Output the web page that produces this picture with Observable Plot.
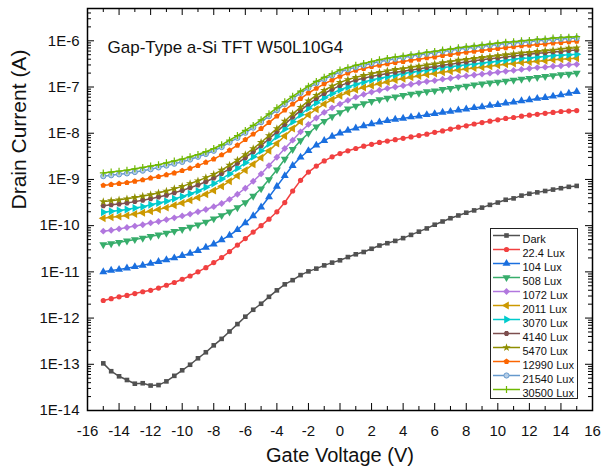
<!DOCTYPE html>
<html>
<head>
<meta charset="utf-8">
<script src="https://cdn.jsdelivr.net/npm/d3@7"></script>
<script src="https://cdn.jsdelivr.net/npm/@observablehq/plot@0.6"></script>
<style>
  html, body { margin: 0; padding: 0; background: #fff; }
  #chart { width: 601px; height: 476px; }
</style>
</head>
<body>
<div id="chart"></div>
<script>
// Gate voltage sweep (V)
const gateVoltage = [-15,-14.5,-14,-13.5,-13,-12.5,-12,-11.5,-11,-10.5,
  -10,-9.5,-9,-8.5,-8,-7.5,-7,-6.5,-6,-5.5,
  -5,-4.5,-4,-3.5,-3,-2.5,-2,-1.5,-1,-0.5,
  0,0.5,1,1.5,2,2.5,3,3.5,4,4.5,
  5,5.5,6,6.5,7,7.5,8,8.5,9,9.5,
  10,10.5,11,11.5,12,12.5,13,13.5,14,14.5,15];

const seriesNames = ["Dark","22.4 Lux","104 Lux","508 Lux","1072 Lux","2011 Lux","3070 Lux","4140 Lux","5470 Lux","12990 Lux","21540 Lux","30500 Lux"];
const seriesColors = ["#515151","#F14040","#1A6FDF","#37AD6B","#B177DE","#CC9900","#00CBCC","#7D4E4E","#8E8E00","#FB6501","#6699CC","#6FB802"];

// Drain current, stored as log10(I / A)
const logDark = [-12.98,-13.15,-13.26,-13.34,-13.42,-13.41,-13.46,-13.45,-13.37,-13.25,
  -13.13,-13.01,-12.87,-12.74,-12.59,-12.45,-12.29,-12.13,-11.97,-11.82,
  -11.69,-11.54,-11.40,-11.27,-11.18,-11.07,-10.99,-10.93,-10.86,-10.80,
  -10.75,-10.68,-10.62,-10.57,-10.50,-10.43,-10.38,-10.33,-10.27,-10.20,
  -10.13,-10.06,-9.98,-9.91,-9.84,-9.78,-9.72,-9.67,-9.61,-9.55,
  -9.50,-9.44,-9.41,-9.35,-9.31,-9.28,-9.25,-9.22,-9.19,-9.16,-9.14];
const logLux22 = [-11.62,-11.58,-11.54,-11.51,-11.47,-11.43,-11.40,-11.35,-11.29,-11.23,
  -11.16,-11.09,-11.00,-10.91,-10.80,-10.69,-10.56,-10.42,-10.28,-10.14,
  -10.00,-9.86,-9.70,-9.50,-9.25,-9.02,-8.84,-8.71,-8.60,-8.51,
  -8.44,-8.38,-8.33,-8.28,-8.24,-8.20,-8.17,-8.14,-8.11,-8.08,
  -8.05,-8.02,-7.98,-7.95,-7.91,-7.87,-7.84,-7.80,-7.77,-7.74,
  -7.71,-7.68,-7.66,-7.63,-7.61,-7.59,-7.57,-7.55,-7.53,-7.52,-7.51];
const logLux104 = [-11.00,-10.97,-10.95,-10.92,-10.89,-10.86,-10.82,-10.78,-10.74,-10.70,
  -10.65,-10.60,-10.54,-10.47,-10.40,-10.31,-10.21,-10.09,-9.94,-9.79,
  -9.60,-9.38,-9.15,-8.92,-8.70,-8.52,-8.38,-8.26,-8.16,-8.07,
  -8.00,-7.94,-7.89,-7.84,-7.80,-7.76,-7.73,-7.70,-7.68,-7.65,
  -7.63,-7.60,-7.58,-7.55,-7.53,-7.50,-7.48,-7.45,-7.43,-7.40,
  -7.38,-7.35,-7.33,-7.30,-7.28,-7.25,-7.23,-7.20,-7.17,-7.14,-7.10];
const logLux508 = [-10.41,-10.39,-10.36,-10.33,-10.30,-10.27,-10.23,-10.20,-10.16,-10.12,
  -10.08,-10.03,-9.98,-9.92,-9.85,-9.78,-9.70,-9.61,-9.50,-9.36,
  -9.20,-9.00,-8.79,-8.56,-8.35,-8.16,-8.00,-7.86,-7.74,-7.64,
  -7.55,-7.47,-7.41,-7.36,-7.31,-7.27,-7.24,-7.21,-7.18,-7.15,
  -7.13,-7.10,-7.08,-7.05,-7.03,-7.00,-6.98,-6.95,-6.93,-6.91,
  -6.89,-6.87,-6.85,-6.83,-6.81,-6.79,-6.77,-6.75,-6.73,-6.72,-6.70];
const logLux1072 = [-10.12,-10.10,-10.07,-10.04,-10.01,-9.98,-9.94,-9.91,-9.87,-9.83,
  -9.79,-9.75,-9.70,-9.65,-9.59,-9.52,-9.43,-9.32,-9.19,-9.04,
  -8.88,-8.70,-8.52,-8.33,-8.15,-7.97,-7.81,-7.67,-7.55,-7.45,
  -7.37,-7.29,-7.22,-7.16,-7.11,-7.07,-7.03,-7.00,-6.97,-6.94,
  -6.91,-6.88,-6.86,-6.83,-6.81,-6.78,-6.76,-6.74,-6.72,-6.70,
  -6.68,-6.66,-6.64,-6.62,-6.60,-6.58,-6.57,-6.55,-6.54,-6.52,-6.51];
const logLux2011 = [-9.84,-9.82,-9.80,-9.78,-9.75,-9.72,-9.69,-9.65,-9.61,-9.56,
  -9.51,-9.45,-9.39,-9.32,-9.24,-9.15,-9.04,-8.92,-8.80,-8.67,
  -8.53,-8.38,-8.22,-8.06,-7.90,-7.75,-7.60,-7.48,-7.37,-7.27,
  -7.19,-7.12,-7.06,-7.01,-6.97,-6.93,-6.89,-6.85,-6.82,-6.79,
  -6.76,-6.73,-6.71,-6.68,-6.66,-6.63,-6.61,-6.59,-6.57,-6.55,
  -6.53,-6.51,-6.49,-6.47,-6.46,-6.44,-6.43,-6.41,-6.40,-6.39,-6.38];
const logLux3070 = [-9.71,-9.69,-9.67,-9.65,-9.62,-9.59,-9.55,-9.51,-9.47,-9.42,
  -9.37,-9.31,-9.25,-9.17,-9.09,-8.99,-8.88,-8.76,-8.64,-8.51,
  -8.38,-8.23,-8.07,-7.91,-7.75,-7.60,-7.46,-7.34,-7.23,-7.14,
  -7.06,-7.00,-6.94,-6.89,-6.85,-6.81,-6.78,-6.74,-6.71,-6.68,
  -6.66,-6.63,-6.61,-6.58,-6.56,-6.54,-6.52,-6.50,-6.48,-6.46,
  -6.44,-6.42,-6.40,-6.38,-6.37,-6.35,-6.34,-6.32,-6.31,-6.30,-6.29];
const logLux4140 = [-9.57,-9.55,-9.53,-9.51,-9.48,-9.45,-9.42,-9.38,-9.34,-9.29,
  -9.24,-9.18,-9.12,-9.05,-8.97,-8.87,-8.77,-8.65,-8.53,-8.40,
  -8.27,-8.12,-7.97,-7.81,-7.65,-7.51,-7.37,-7.25,-7.14,-7.05,
  -6.97,-6.91,-6.85,-6.81,-6.77,-6.74,-6.71,-6.68,-6.66,-6.63,
  -6.61,-6.58,-6.56,-6.53,-6.51,-6.48,-6.46,-6.43,-6.41,-6.39,
  -6.37,-6.35,-6.33,-6.31,-6.29,-6.27,-6.26,-6.24,-6.23,-6.21,-6.20];
const logLux5470 = [-9.48,-9.46,-9.44,-9.42,-9.39,-9.36,-9.33,-9.29,-9.25,-9.20,
  -9.15,-9.09,-9.03,-8.96,-8.89,-8.80,-8.69,-8.58,-8.46,-8.33,
  -8.20,-8.05,-7.90,-7.74,-7.58,-7.44,-7.30,-7.18,-7.07,-6.98,
  -6.90,-6.84,-6.79,-6.75,-6.71,-6.68,-6.65,-6.62,-6.60,-6.57,
  -6.55,-6.52,-6.50,-6.47,-6.45,-6.42,-6.40,-6.38,-6.36,-6.34,
  -6.32,-6.30,-6.28,-6.26,-6.25,-6.23,-6.21,-6.20,-6.18,-6.16,-6.15];
const logLux12990 = [-9.13,-9.11,-9.09,-9.07,-9.04,-9.01,-8.97,-8.94,-8.90,-8.86,
  -8.81,-8.76,-8.70,-8.63,-8.56,-8.47,-8.37,-8.26,-8.14,-8.02,
  -7.90,-7.77,-7.63,-7.50,-7.37,-7.25,-7.13,-7.03,-6.93,-6.85,
  -6.77,-6.70,-6.64,-6.60,-6.56,-6.53,-6.50,-6.47,-6.45,-6.42,
  -6.40,-6.37,-6.35,-6.32,-6.30,-6.27,-6.25,-6.23,-6.21,-6.19,
  -6.17,-6.15,-6.13,-6.11,-6.10,-6.08,-6.07,-6.05,-6.04,-6.02,-6.01];
const logLux21540 = [-8.93,-8.91,-8.89,-8.87,-8.84,-8.81,-8.78,-8.74,-8.70,-8.66,
  -8.62,-8.57,-8.51,-8.45,-8.38,-8.30,-8.20,-8.10,-7.99,-7.88,
  -7.76,-7.63,-7.50,-7.37,-7.25,-7.13,-7.02,-6.92,-6.83,-6.75,
  -6.67,-6.62,-6.57,-6.53,-6.49,-6.45,-6.42,-6.39,-6.36,-6.33,
  -6.31,-6.28,-6.26,-6.23,-6.21,-6.18,-6.16,-6.14,-6.12,-6.10,
  -6.08,-6.06,-6.05,-6.03,-6.02,-6.00,-5.99,-5.97,-5.96,-5.95,-5.94];
const logLux30500 = [-8.86,-8.84,-8.82,-8.80,-8.77,-8.74,-8.71,-8.68,-8.64,-8.60,
  -8.56,-8.51,-8.46,-8.40,-8.33,-8.25,-8.15,-8.05,-7.94,-7.83,
  -7.71,-7.58,-7.45,-7.32,-7.20,-7.09,-6.98,-6.88,-6.79,-6.71,
  -6.63,-6.58,-6.53,-6.49,-6.45,-6.41,-6.38,-6.35,-6.33,-6.30,
  -6.28,-6.25,-6.23,-6.20,-6.18,-6.15,-6.13,-6.11,-6.09,-6.07,
  -6.05,-6.03,-6.02,-6.00,-5.99,-5.97,-5.96,-5.94,-5.93,-5.92,-5.91];

const seriesLog = [logDark, logLux22, logLux104, logLux508, logLux1072, logLux2011,
  logLux3070, logLux4140, logLux5470, logLux12990, logLux21540, logLux30500];

// Axis ticks
const xTickValues = [-16,-14,-12,-10,-8,-6,-4,-2,0,2,4,6,8,10,12,14,16];
const xMinorValues = [-15,-13,-11,-9,-7,-5,-3,-1,1,3,5,7,9,11,13,15];
const yTickValues = [1e-14,1e-13,1e-12,1e-11,1e-10,1e-9,1e-8,1e-7,1e-6];
const yMinorValues = [];
for (let e = -14; e <= -6; e++) for (let k = 2; k <= 9; k++) { const v = k * Math.pow(10, e); if (v < 5e-6) yMinorValues.push(v); }

// Marker shapes
const ngon = (n, a0, scale = 1) => ({
  draw(ctx, size) {
    const R = Math.sqrt(2 * size * scale / (n * Math.sin(2 * Math.PI / n)));
    for (let k = 0; k < n; ++k) {
      const a = a0 + k * 2 * Math.PI / n;
      const px = R * Math.cos(a), py = R * Math.sin(a);
      if (k) ctx.lineTo(px, py); else ctx.moveTo(px, py);
    }
    ctx.closePath();
  }
});
const plusThin = { draw(ctx, size) { const r = Math.sqrt(size) * 0.75; ctx.moveTo(-r, 0); ctx.lineTo(r, 0); ctx.moveTo(0, -r); ctx.lineTo(0, r); } };
const hline = { draw(ctx) { ctx.moveTo(-13.5, 0); ctx.lineTo(13.5, 0); } };
const PI = Math.PI;
const seriesSymbols = [d3.symbolSquare, d3.symbolCircle, ngon(3, -PI/2, 1.3), ngon(3, PI/2, 1.3),
  ngon(4, -PI/2, 1.1), ngon(3, PI, 1.3), ngon(3, 0, 1.3), ngon(6, 0), d3.symbolStar, ngon(5, -PI/2), d3.symbolCircle, plusThin];

function dotStyle(i) {
  const c = seriesColors[i];
  if (i === 11) return { fill: "none", stroke: c, strokeWidth: 1.2 };
  if (i === 10) return { fill: "#b5cde6", stroke: c, strokeWidth: 1 };
  return { fill: c, stroke: "none" };
}

const W = 601, H = 476;
const mL = 87, mR = 9, mT = 8, mB = 66;
const fw = W - mL - mR, fh = H - mT - mB;

const marks = [];
seriesNames.forEach((name, i) => {
  const rows = gateVoltage.map((v, j) => ({ v, I: Math.pow(10, seriesLog[i][j]) }));
  marks.push(Plot.line(rows, { x: "v", y: "I", stroke: seriesColors[i], strokeWidth: 1.5 }));
  marks.push(Plot.dot(rows, { x: "v", y: "I", symbol: seriesSymbols[i], r: 2.6, ...dotStyle(i) }));
});

// Legend
marks.push(Plot.frame({ fill: "white", stroke: "#222", strokeWidth: 1, insetLeft: 403, insetRight: 15, insetTop: 220, insetBottom: 12 }));
seriesNames.forEach((name, i) => {
  const dy = 227 + 14 * i;
  marks.push(Plot.dot([name], { frameAnchor: "top-left", dx: 419, dy, symbol: hline, r: 3, fill: "none", stroke: seriesColors[i], strokeWidth: 1.5 }));
  marks.push(Plot.dot([name], { frameAnchor: "top-left", dx: 419, dy, symbol: seriesSymbols[i], r: 2.6, ...dotStyle(i) }));
  marks.push(Plot.text([name], { frameAnchor: "top-left", dx: 435, dy, text: d => d, textAnchor: "start", fontSize: 11, fill: "#111" }));
});

// Title and axis titles
marks.push(Plot.text(["Gap-Type a-Si TFT W50L10G4"], { frameAnchor: "top-left", dx: 20, dy: 32, text: d => d, textAnchor: "start", fontSize: 17, fill: "#111" }));
marks.push(Plot.text(["Drain Current (A)"], { frameAnchor: "left", dx: -68, text: d => d, rotate: -90, fontSize: 21, fill: "#111" }));
marks.push(Plot.text(["Gate Voltage (V)"], { frameAnchor: "bottom", dy: 51, text: d => d, fontSize: 20, fill: "#111" }));

// Inward ticks on all four sides
marks.push(Plot.ruleY(yTickValues, { y: d => d, insetRight: fw - 7, stroke: "#000" }));
marks.push(Plot.ruleY(yTickValues, { y: d => d, insetLeft: fw - 7, stroke: "#000" }));
marks.push(Plot.ruleY(yMinorValues, { y: d => d, insetRight: fw - 4, stroke: "#000" }));
marks.push(Plot.ruleY(yMinorValues, { y: d => d, insetLeft: fw - 4, stroke: "#000" }));
marks.push(Plot.ruleX(xTickValues, { x: d => d, insetTop: fh - 7, stroke: "#000" }));
marks.push(Plot.ruleX(xTickValues, { x: d => d, insetBottom: fh - 7, stroke: "#000" }));
marks.push(Plot.ruleX(xMinorValues, { x: d => d, insetTop: fh - 4, stroke: "#000" }));
marks.push(Plot.ruleX(xMinorValues, { x: d => d, insetBottom: fh - 4, stroke: "#000" }));
marks.push(Plot.frame({ stroke: "#000", strokeWidth: 1.5 }));

// Tick labels
marks.push(Plot.axisY({ ticks: yTickValues, tickSize: 0, tickPadding: 8, tickFormat: d => "1E" + Math.round(Math.log10(d)), fontSize: 15, label: null }));
marks.push(Plot.axisX({ ticks: xTickValues, tickSize: 0, tickPadding: 15, tickFormat: d => String(d), fontSize: 15, label: null }));

const chart = Plot.plot({
  width: W, height: H,
  marginLeft: mL, marginRight: mR, marginTop: mT, marginBottom: mB,
  x: { domain: [-16, 16] },
  y: { type: "log", domain: [1e-14, 5e-6] },
  style: { fontFamily: "'Liberation Sans', Arial, sans-serif", fontSize: "15px", background: "#fff", color: "#111" },
  marks
});
document.getElementById("chart").appendChild(chart);
</script>
</body>
</html>
